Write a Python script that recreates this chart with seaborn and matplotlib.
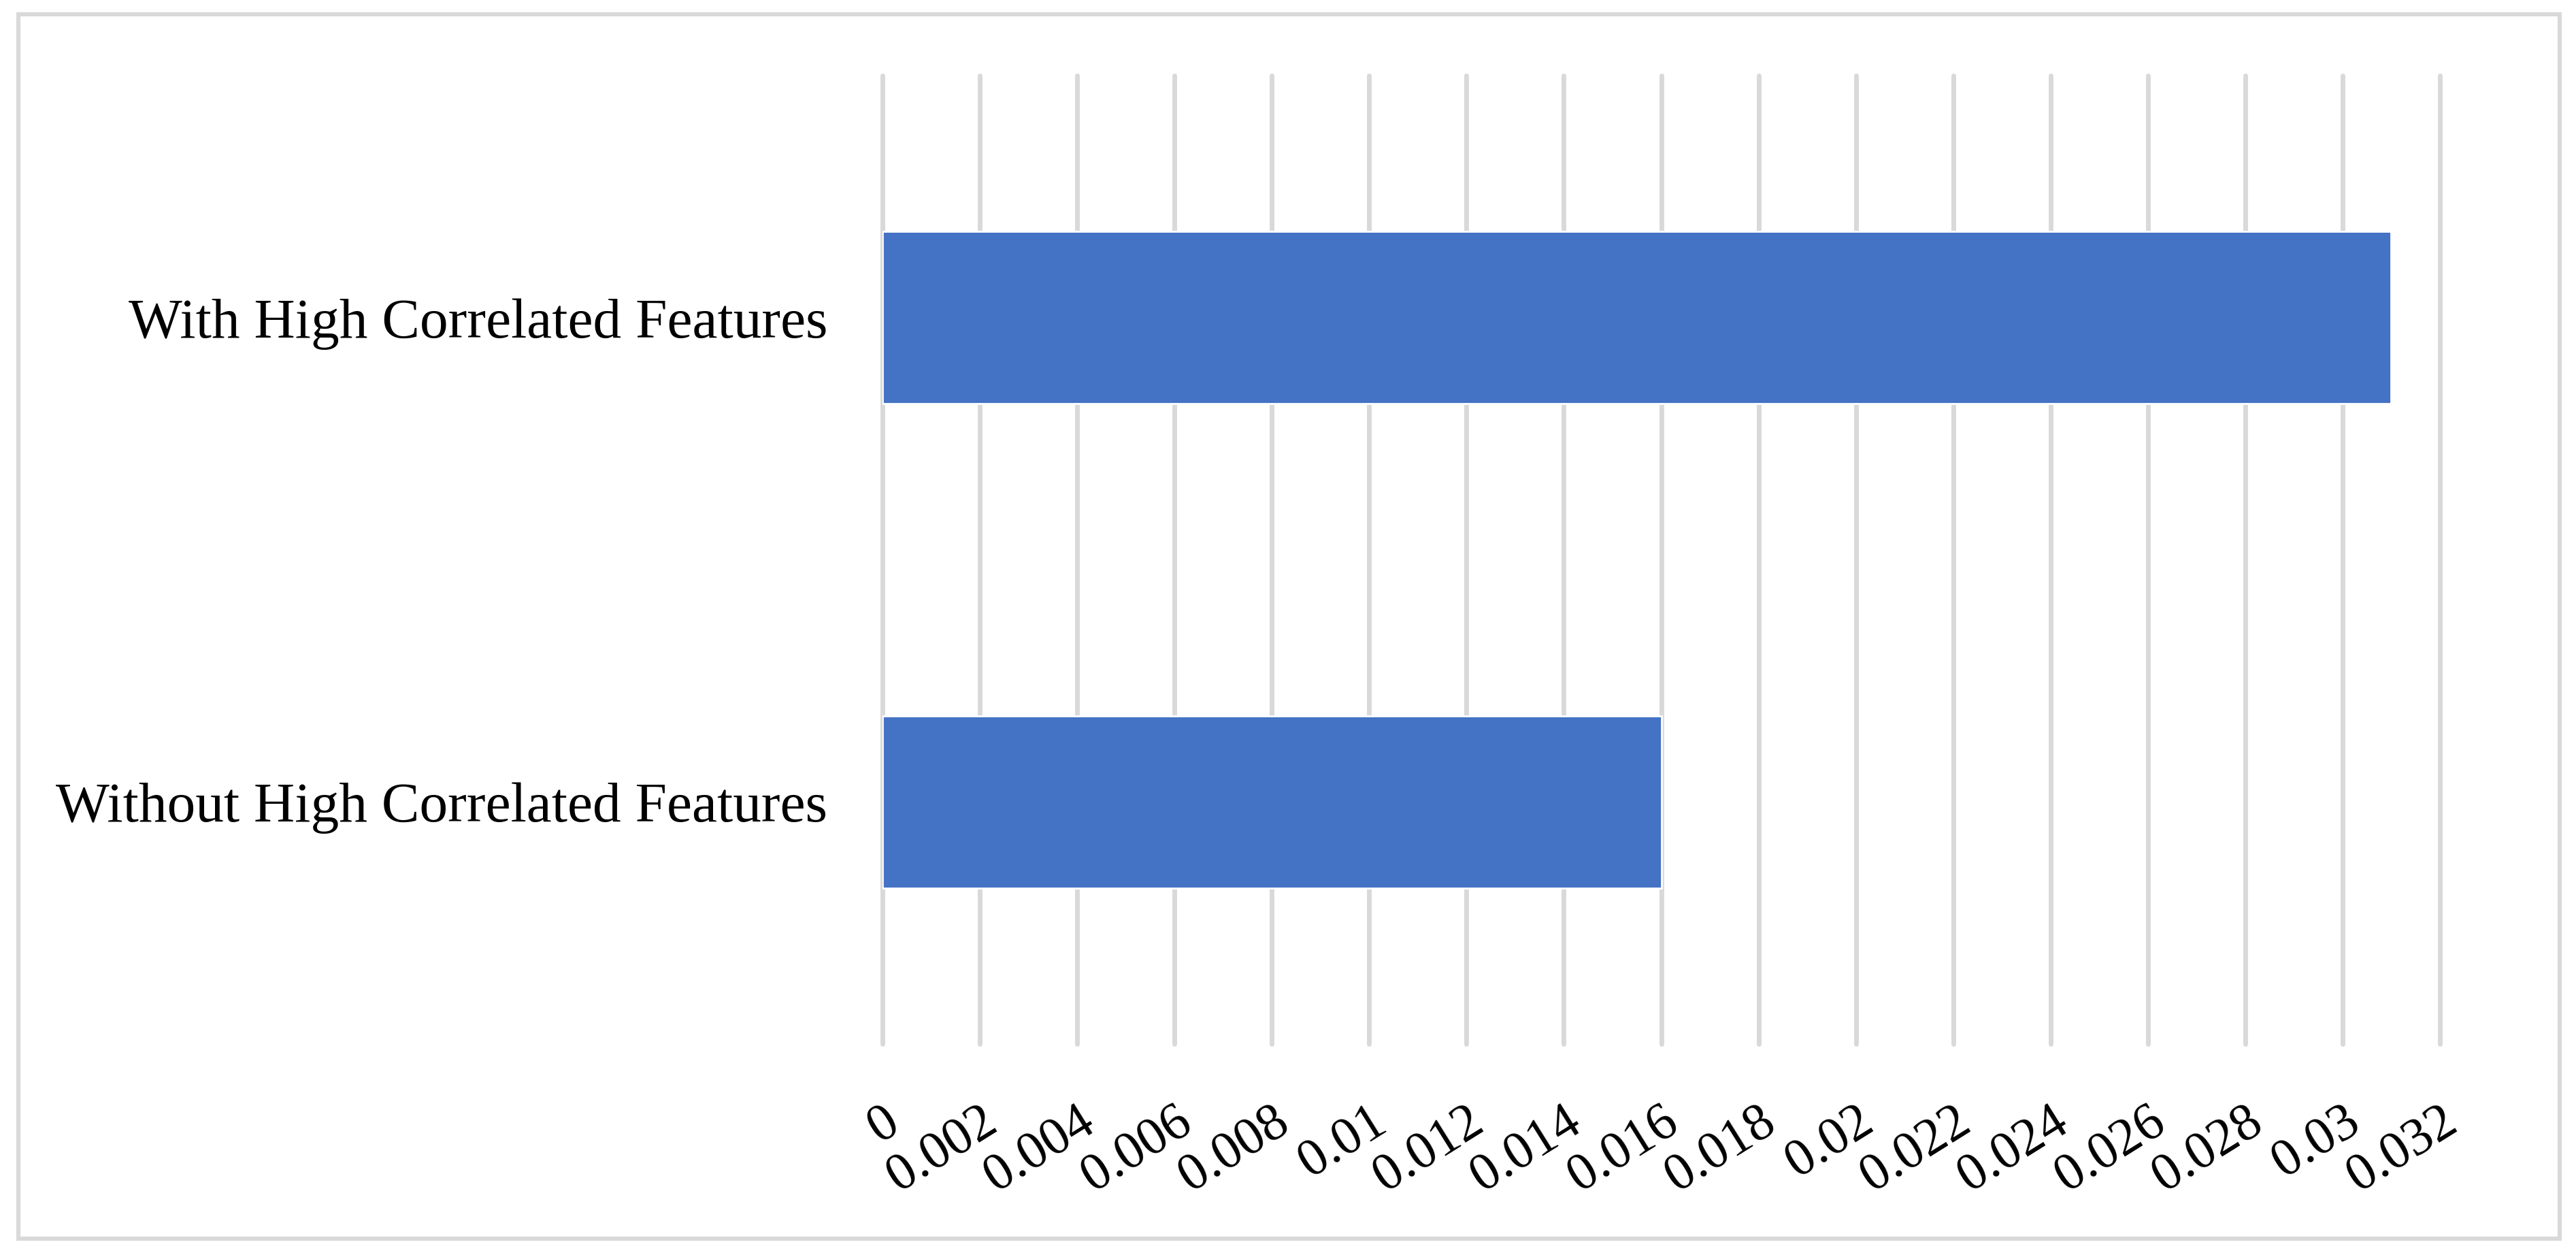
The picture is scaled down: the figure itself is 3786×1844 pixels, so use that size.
import matplotlib
matplotlib.use("Agg")
import matplotlib.pyplot as plt
from matplotlib.patches import Rectangle
import seaborn as sns
import pandas as pd

categories = ["With High Correlated Features", "Without High Correlated Features"]
values = [0.031, 0.016]
tick_values = [0, 0.002, 0.004, 0.006, 0.008, 0.01, 0.012, 0.014, 0.016,
               0.018, 0.02, 0.022, 0.024, 0.026, 0.028, 0.03, 0.032]
tick_labels = ["0", "0.002", "0.004", "0.006", "0.008", "0.01", "0.012", "0.014",
               "0.016", "0.018", "0.02", "0.022", "0.024", "0.026", "0.028", "0.03", "0.032"]

df = pd.DataFrame({"category": categories, "value": values})

sns.set_theme(style="white")
plt.rcParams["font.family"] = ["Liberation Serif", "DejaVu Serif"]

W, H, DPI = 3786, 1844, 200
fig = plt.figure(figsize=(W / DPI, H / DPI), dpi=DPI)
ax = fig.add_axes([1297 / W, 1 - 1534 / H, (3586 - 1297) / W, (1534 - 111) / H])

sns.barplot(data=df, x="value", y="category", orient="h", color="#4472C4",
            saturation=1, width=0.356, ax=ax, order=categories)

ax.set_xlim(0, 0.032)
ax.set_ylim(1.5, -0.5)
ax.set_xticks(tick_values)
ax.set_xticklabels(tick_labels, rotation=32, ha="right", va="top",
                   rotation_mode="anchor", fontsize=28, color="black")
ax.tick_params(axis="x", pad=28, length=0)
ax.tick_params(axis="y", pad=29, length=0, labelsize=30, labelcolor="black")
ax.set_xlabel("")
ax.set_ylabel("")
for s in ax.spines.values():
    s.set_visible(False)
ax.set_axisbelow(True)
ax.grid(axis="x", color="#D9D9D9", linewidth=2.5)
ax.grid(axis="y", visible=False)
for gl in ax.get_xgridlines():
    gl.set_clip_on(False)

fig.add_artist(Rectangle((26.5 / W, 1 - 1820 / H), (3761.5 - 26.5) / W, (1820 - 21.5) / H,
                         transform=fig.transFigure, fill=False,
                         edgecolor="#D9D9D9", linewidth=2.2))

fig.savefig("out.png", dpi=DPI, facecolor="white")
